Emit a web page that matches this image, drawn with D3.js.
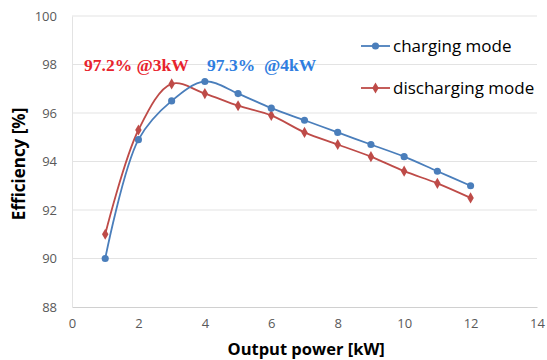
<!DOCTYPE html>
<html>
<head>
<meta charset="utf-8">
<script src="https://cdn.jsdelivr.net/npm/d3@7"></script>
<style>
  body { margin: 0; background: #fff; }
</style>
</head>
<body>
<script>
// data
const power = [1, 2, 3, 4, 5, 6, 7, 8, 9, 10, 11, 12];
const charging = [90.0, 94.9, 96.5, 97.3, 96.8, 96.2, 95.7, 95.2, 94.7, 94.2, 93.6, 93.0];
const discharging = [91.0, 95.3, 97.2, 96.8, 96.3, 95.9, 95.2, 94.7, 94.2, 93.6, 93.1, 92.5];
const xTicks = [0, 2, 4, 6, 8, 10, 12, 14];
const yTicks = [88, 90, 92, 94, 96, 98, 100];
const seriesNames = ["charging mode", "discharging mode"];

const width = 547;
const height = 360;
const marginLeft = 72;
const marginRight = 10;
const marginTop = 16;
const marginBottom = 53;

const blue = "#4a7ebb";
const red = "#be4b48";

const svg = d3.select("body").append("svg")
    .attr("width", width)
    .attr("height", height);

const chartWidth = width - marginLeft - marginRight;
const chartHeight = height - marginTop - marginBottom;

const xScale = d3.scaleLinear().domain([0, 14]).range([0, 465]);
const yScale = d3.scaleLinear().domain([88, 100]).range([chartHeight, 0]);

const g = svg.append("g")
    .attr("transform", "translate(" + marginLeft + "," + marginTop + ")");

// grid lines
g.append("g")
    .selectAll("line")
    .data(yTicks.filter(d => d > 88))
    .join("line")
    .attr("x1", 0)
    .attr("x2", xScale(14))
    .attr("y1", d => yScale(d))
    .attr("y2", d => yScale(d))
    .attr("stroke", "#e3e3e3")
    .attr("stroke-width", 1);

// x axis
const xAxis = g.append("g")
    .attr("transform", "translate(0," + chartHeight + ")")
    .call(d3.axisBottom(xScale).tickValues(xTicks).tickSize(0).tickPadding(12));
xAxis.select(".domain").attr("stroke", "#d0d0d0");
xAxis.selectAll("text")
    .attr("font-size", "13px")
    .attr("font-family", "Open Sans")
    .attr("fill", "#595959");

// y axis
const yAxis = g.append("g")
    .call(d3.axisLeft(yScale).tickValues(yTicks).tickSize(0).tickPadding(15));
yAxis.select(".domain").attr("stroke", "#e3e3e3");
yAxis.selectAll("text")
    .attr("font-size", "13px")
    .attr("font-family", "Open Sans")
    .attr("fill", "#595959");

// axis titles
svg.append("text")
    .attr("x", marginLeft + xScale(7.05))
    .attr("y", 355)
    .attr("text-anchor", "middle")
    .attr("font-size", "16.5px")
    .attr("font-weight", "bold")
    .attr("font-family", "Open Sans")
    .attr("fill", "#000")
    .text("Output power [kW]");

svg.append("text")
    .attr("transform", "translate(25," + (marginTop + yScale(93.9)) + ") rotate(-90)")
    .attr("text-anchor", "middle")
    .attr("font-size", "17px")
    .attr("font-weight", "bold")
    .attr("font-family", "Open Sans")
    .attr("fill", "#000")
    .text("Efficiency [%]");

// lines
const line = d3.line()
    .x(d => xScale(d[0]))
    .y(d => yScale(d[1]))
    .curve(d3.curveCatmullRom.alpha(0.5));

const seriesData = [
    { name: seriesNames[0], color: blue, values: d3.zip(power, charging), shape: d3.symbolCircle, size: 40 },
    { name: seriesNames[1], color: red, values: d3.zip(power, discharging), shape: d3.symbolDiamond, size: 36 }
];

seriesData.slice().reverse().forEach(s => {
    g.append("path")
        .datum(s.values)
        .attr("fill", "none")
        .attr("stroke", s.color)
        .attr("stroke-width", 1.8)
        .attr("d", line);
});

seriesData.slice().reverse().forEach(s => {
    g.append("g")
        .selectAll("path")
        .data(s.values)
        .join("path")
        .attr("transform", d => "translate(" + xScale(d[0]) + "," + yScale(d[1]) + ")")
        .attr("d", d3.symbol().type(s.shape).size(s.size))
        .attr("fill", s.color);
});

// annotations
svg.append("text")
    .attr("x", 84)
    .attr("y", 71)
    .attr("font-size", "17.5px")
    .attr("font-weight", "bold")
    .attr("font-family", "Liberation Serif")
    .attr("fill", "#e8232d")
    .text("97.2% @3kW");

svg.append("text")
    .attr("x", 207)
    .attr("y", 71)
    .attr("font-size", "17.5px")
    .attr("font-weight", "bold")
    .attr("font-family", "Liberation Serif")
    .attr("fill", "#2f7ee0")
    .attr("xml:space", "preserve")
    .style("white-space", "pre")
    .text("97.3%  @4kW");

// legend
const legend = svg.append("g");
seriesData.forEach((s, i) => {
    const ly = 46 + i * 42;
    legend.append("line")
        .attr("x1", 361).attr("x2", 390)
        .attr("y1", ly).attr("y2", ly)
        .attr("stroke", s.color)
        .attr("stroke-width", 1.8);
    legend.append("path")
        .attr("transform", "translate(375.5," + ly + ")")
        .attr("d", d3.symbol().type(s.shape).size(s.size))
        .attr("fill", s.color);
    legend.append("text")
        .attr("x", 393)
        .attr("y", ly + 5.5)
        .attr("font-size", "17px")
        .attr("font-family", "Open Sans")
        .attr("fill", "#000")
        .text(s.name);
});
</script>
</body>
</html>
